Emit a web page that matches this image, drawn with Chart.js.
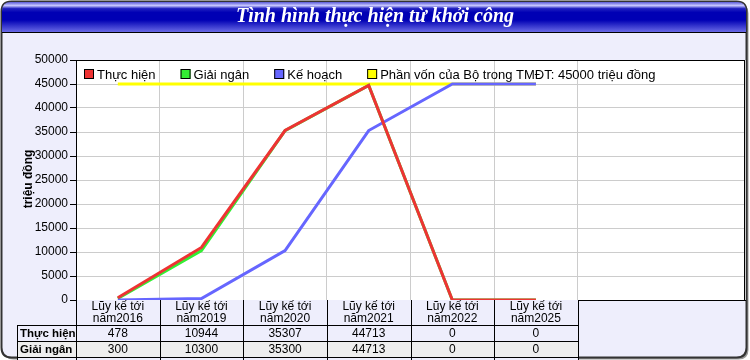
<!DOCTYPE html>
<html><head><meta charset="utf-8">
<script src="https://cdn.jsdelivr.net/npm/chart.js@4.4.1/dist/chart.umd.min.js"></script>
<style>html,body{margin:0;padding:0;background:#fff}#wrap{width:750px;height:360px}</style>
</head><body><div id="wrap"><canvas id="c" width="750" height="360"></canvas></div>
<script>
const chartTitle = 'Tình hình thực hiện từ khởi công';
const yAxisTitle = 'triệu đồng';
const headerLine1 = ['Lũy kế tới','Lũy kế tới','Lũy kế tới','Lũy kế tới','Lũy kế tới','Lũy kế tới'];
const headerLine2 = ['năm2016','năm2019','năm2020','năm2021','năm2022','năm2025'];
const extraSlots = ['', ''];
const thucHien = [478, 10944, 35307, 44713, 0, 0];
const giaiNgan = [300, 10300, 35300, 44713, 0, 0];
const keHoach = [0, 300, 10300, 35300, 45000, 45000];
const phanVon = [45000, 45000, 45000, 45000, 45000, 45000];
const seriesNames = ['Thực hiện', 'Giải ngân', 'Kế hoạch', 'Phần vốn của Bộ trong TMĐT: 45000 triệu đồng'];
const seriesColors = ['#ee3333', '#33ee33', '#6666ff', '#ffff00'];
const tableRows = [['Thực hiện', thucHien], ['Giải ngân', giaiNgan], ['Kế hoạch', keHoach]];
const yTicks = [0, 5000, 10000, 15000, 20000, 25000, 30000, 35000, 40000, 45000, 50000];

const LAV = '#eeeefc';
const FONT = '"Liberation Sans", Arial, sans-serif';

function rr(c, x, y, w, h, r) {
  c.beginPath();
  c.moveTo(x + r, y); c.lineTo(x + w - r, y); c.quadraticCurveTo(x + w, y, x + w, y + r);
  c.lineTo(x + w, y + h - r); c.quadraticCurveTo(x + w, y + h, x + w - r, y + h);
  c.lineTo(x + r, y + h); c.quadraticCurveTo(x, y + h, x, y + h - r);
  c.lineTo(x, y + r); c.quadraticCurveTo(x, y, x + r, y); c.closePath();
}

const framePlugin = {
  id: 'frame',
  beforeDraw(chart) {
    const c = chart.ctx, a = chart.chartArea;
    c.save();
    c.fillStyle = '#fff'; c.fillRect(0, 0, chart.width, chart.height);
    rr(c, 3.5, 3.5, 745, 356, 10); c.fillStyle = '#999'; c.fill();
    rr(c, 1.5, 1.5, 745, 356, 10); c.fillStyle = LAV; c.fill();
    c.lineWidth = 2; c.strokeStyle = '#333'; c.stroke();
    c.save();
    rr(c, 2, 2, 744, 40, 9); c.clip();
    const g = c.createLinearGradient(0, 2, 0, 32);
    g.addColorStop(0, '#5a5ad8'); g.addColorStop(0.12, '#c8c8ff'); g.addColorStop(0.22, '#2020c0');
    g.addColorStop(0.35, '#0000b4'); g.addColorStop(0.6, '#0000b4'); g.addColorStop(1, '#6a6ae6');
    c.fillStyle = g; c.fillRect(2, 2, 744, 30);
    c.restore();
    c.beginPath(); c.moveTo(2, 32.5); c.lineTo(746, 32.5); c.lineWidth = 1; c.strokeStyle = '#000'; c.stroke();
    c.fillStyle = '#fff'; c.font = 'italic bold 20px "Liberation Serif", "Times New Roman", serif';
    c.textAlign = 'center'; c.textBaseline = 'middle';
    c.fillText(chartTitle, 375, 17);
    c.fillStyle = '#fff'; c.fillRect(a.left, a.top, a.right - a.left, a.bottom - a.top);
    c.restore();
  },
  afterDraw(chart) {
    const c = chart.ctx, a = chart.chartArea, xs = chart.scales.x;
    c.save();
    c.strokeStyle = '#000'; c.lineWidth = 1;
    c.strokeRect(Math.round(a.left) + 0.5, Math.round(a.top) + 0.5, Math.round(a.right - a.left) - 1, Math.round(a.bottom - a.top));
    c.save(); c.translate(29, 179); c.rotate(-Math.PI / 2);
    c.font = 'bold 12px ' + FONT; c.fillStyle = '#000'; c.textAlign = 'center'; c.textBaseline = 'middle';
    c.fillText(yAxisTitle, 0, 0); c.restore();
    c.font = '13px ' + FONT; c.textBaseline = 'middle'; c.textAlign = 'left';
    let lx = 84; const ly = 74;
    seriesNames.forEach((n, i) => {
      c.fillStyle = seriesColors[i]; c.fillRect(lx, ly - 5, 10, 10);
      c.strokeStyle = '#000'; c.lineWidth = 1; c.strokeRect(lx + 0.5, ly - 4.5, 9, 9);
      c.fillStyle = '#000'; c.fillText(n, lx + 13, ly + 1);
      lx += 13 + c.measureText(n).width + 25;
    });
    const slot = (a.right - a.left) / xs.ticks.length;
    const colL = i => Math.round(xs.getPixelForValue(i) - slot / 2);
    const top = Math.round(a.bottom);
    const rowsY = [top, top + 25, top + 41, top + 57, top + 73];
    const lab0 = 17, nCols = headerLine1.length;
    const tRight = colL(nCols);
    c.fillStyle = LAV; c.fillRect(colL(0), rowsY[0], tRight - colL(0), 25);
    tableRows.forEach((r, ri) => {
      c.fillStyle = ri === 1 ? '#eeeeee' : LAV;
      c.fillRect(lab0, rowsY[ri + 1], tRight - lab0, rowsY[ri + 2] - rowsY[ri + 1]);
    });
    c.strokeStyle = '#000'; c.lineWidth = 1;
    c.beginPath();
    for (let i = 0; i <= nCols; i++) { const x = colL(i) + 0.5; c.moveTo(x, rowsY[0]); c.lineTo(x, rowsY[4]); }
    c.moveTo(lab0 + 0.5, rowsY[1]); c.lineTo(lab0 + 0.5, rowsY[4]);
    for (let r = 1; r <= 4; r++) { c.moveTo(lab0, rowsY[r] + 0.5); c.lineTo(tRight + 1, rowsY[r] + 0.5); }
    c.stroke();
    c.fillStyle = '#000'; c.textAlign = 'center'; c.font = '12px ' + FONT;
    for (let i = 0; i < nCols; i++) {
      const cx = xs.getPixelForValue(i);
      c.fillText(headerLine1[i], cx, rowsY[0] + 7);
      c.fillText(headerLine2[i], cx, rowsY[0] + 19);
      tableRows.forEach((r, ri) => {
        c.fillText(String(r[1][i]), cx, (rowsY[ri + 1] + rowsY[ri + 2]) / 2 + 1);
      });
    }
    c.textAlign = 'left'; c.font = 'bold 11.5px ' + FONT;
    tableRows.forEach((r, ri) => c.fillText(r[0], lab0 + 3, (rowsY[ri + 1] + rowsY[ri + 2]) / 2 + 1));
    c.restore();
  }
};

const labels = headerLine2.concat(extraSlots);
const mk = (i, data) => ({
  label: seriesNames[i], data: data, borderColor: seriesColors[i], backgroundColor: seriesColors[i],
  borderWidth: 3, pointRadius: 0, tension: 0, fill: false, borderJoinStyle: 'miter'
});

new Chart(document.getElementById('c'), {
  type: 'line',
  data: { labels: labels, datasets: [mk(0, thucHien), mk(2, keHoach), mk(1, giaiNgan), mk(3, phanVon)] },
  plugins: [framePlugin],
  options: {
    responsive: false, animation: false, devicePixelRatio: 1,
    layout: { padding: { top: 60, right: 5, left: 0, bottom: 0 } },
    plugins: { legend: { display: false }, tooltip: { enabled: false }, title: { display: false } },
    scales: {
      x: {
        type: 'category', offset: true,
        grid: { offset: true, color: ctx => (ctx.index === 7 ? 'rgba(0,0,0,0)' : '#cccccc'), drawTicks: false },
        border: { color: '#000' },
        ticks: { display: false },
        afterFit: s => { s.height = 60; }
      },
      y: {
        min: 0, max: 50000,
        afterBuildTicks: s => { s.ticks = yTicks.map(v => ({ value: v })); },
        grid: { color: '#cccccc', tickColor: '#000', tickLength: 6 },
        border: { color: '#000' },
        ticks: { color: '#000', font: { family: FONT, size: 12 }, padding: 2, callback: v => String(v) },
        afterFit: s => { s.width = 76; }
      }
    }
  }
});
</script></body></html>
